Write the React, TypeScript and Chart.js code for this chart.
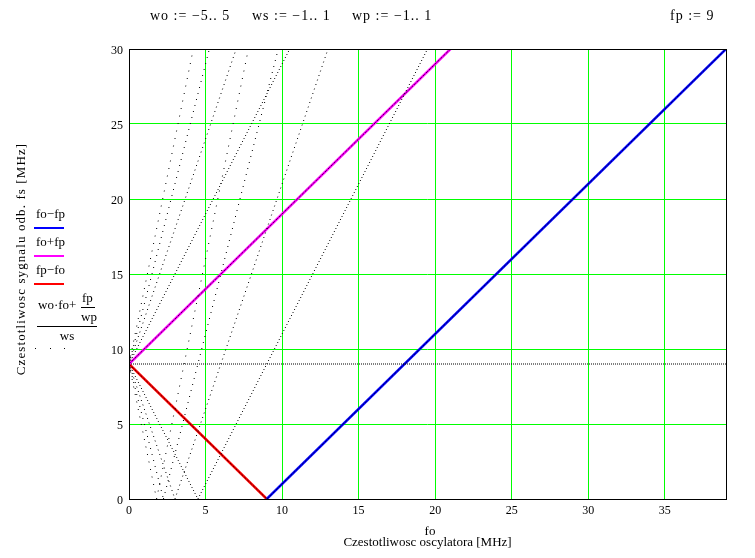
import { useEffect, useRef } from "react";
import { Chart, registerables } from "chart.js";

Chart.register(...registerables);

// ---- data ----
const fp = 9;
const xTicks = [0, 5, 10, 15, 20, 25, 30, 35];
const yTicks = [0, 5, 10, 15, 20, 25, 30];
const foRange = [0, 39];
const fsRange = [0, 30];

// fo - fp
const foMinusFpFo = [9, 39];
const foMinusFpFs = [0, 30];
// fo + fp
const foPlusFpFo = [0, 21];
const foPlusFpFs = [9, 30];
// fp - fo
const fpMinusFoFo = [0, 9];
const fpMinusFoFs = [9, 0];

// (wo·fo + fp/wp)/ws family, each visible branch: [fo start, fs start, fo end, fs end]
const dottedSegments: [number, number, number, number][] = [
  [0, 9, 39, 9],
  [0, 9, 21, 30],
  [0, 9, 10.5, 30],
  [0, 9, 7, 30],
  [0, 9, 5.25, 30],
  [0, 9, 4.2, 30],
  [0, 9, 9, 0],
  [0, 9, 4.5, 0],
  [0, 9, 3, 0],
  [0, 9, 2.25, 0],
  [0, 9, 1.8, 0],
  [9, 0, 39, 30],
  [4.5, 0, 19.5, 30],
  [3, 0, 13, 30],
  [2.25, 0, 9.75, 30],
  [1.8, 0, 7.8, 30],
];
const foStep = 0.1;

const headerTexts = ["wo := \u22125.. 5", "ws := \u22121.. 1", "wp := \u22121.. 1", `fp := ${fp}`];
const legendTexts = ["fo\u2212fp", "fo+fp", "fp\u2212fo"];
const xTitle1 = "fo";
const xTitle2 = "Czestotliwosc oscylatora [MHz]";
const yTitle = "Czestotliwosc sygnalu odb. fs [MHz]";

// ---- styles / layout ----
const W = 755;
const H = 558;
const AREA = { left: 129, top: 49, right: 726, bottom: 499 };
const SERIF = "'Liberation Serif', 'Times New Roman', serif";
const headerX = [150, 252, 352, 670];
const colors = { blue: "#0000ff", magenta: "#ff00ff", red: "#ff0000", grid: "#00ff00" };

const pts = (xs: number[], ys: number[]) => xs.map((x, i) => ({ x, y: ys[i] }));

const decorPlugin = {
  id: "mathcadDecor",
  afterDraw(chart: any) {
    const ctx: any = chart.ctx;
    const a = chart.chartArea;
    ctx.save();
    // frame
    ctx.strokeStyle = "#000";
    ctx.lineWidth = 1;
    ctx.strokeRect(a.left + 0.5, a.top + 0.5, a.right - a.left, a.bottom - a.top);

    ctx.fillStyle = "#000";
    ctx.textBaseline = "alphabetic";
    // header
    ctx.font = `14px ${SERIF}`;
    ctx.textAlign = "left";
    ctx.letterSpacing = "1px";
    headerTexts.forEach((t, i) => ctx.fillText(t, headerX[i], 20));
    ctx.letterSpacing = "0px";

    // legend
    ctx.font = `13px ${SERIF}`;
    const legColors = [colors.blue, colors.magenta, colors.red];
    legendTexts.forEach((t, i) => {
      ctx.fillStyle = "#000";
      ctx.fillText(t, 36, 218 + i * 28);
      ctx.fillStyle = legColors[i];
      ctx.fillRect(34, 227 + i * 28, 30, 2);
    });
    ctx.fillStyle = "#000";
    ctx.fillText("wo\u00b7fo+", 38, 309);
    ctx.fillText("fp", 82, 302);
    ctx.fillRect(81, 307, 14, 1);
    ctx.fillText("wp", 81, 321);
    ctx.fillRect(37, 326, 60, 1);
    ctx.textAlign = "center";
    ctx.fillText("ws", 67, 340);
    ctx.fillRect(35, 348, 1, 1);
    ctx.fillRect(50, 348, 1, 1);
    ctx.fillRect(64, 348, 1, 1);

    // axis titles
    ctx.textAlign = "center";
    ctx.fillText(xTitle1, 430, 535);
    ctx.fillText(xTitle2, (a.left + a.right) / 2, 546);
    ctx.save();
    ctx.translate(22, 259);
    ctx.rotate(-Math.PI / 2);
    ctx.textBaseline = "middle";
    ctx.letterSpacing = "1.1px";
    ctx.fillText(yTitle, 0, 0);
    ctx.letterSpacing = "0px";
    ctx.restore();
    ctx.restore();
  },
};

export default function App() {
  const ref = useRef<HTMLCanvasElement>(null);
  useEffect(() => {
    if (!ref.current) return;
    const pxX = (AREA.right - AREA.left) / (foRange[1] - foRange[0]);
    const pxY = (AREA.bottom - AREA.top) / (fsRange[1] - fsRange[0]);
    const dotted = dottedSegments.map(([x0, y0, x1, y1]) => {
      const slope = (y1 - y0) / (x1 - x0);
      const step = foStep * Math.hypot(pxX, slope * pxY);
      return {
        data: [
          { x: x0, y: y0 },
          { x: x1, y: y1 },
        ],
        showLine: true,
        borderColor: "#000",
        borderWidth: 1,
        borderDash: [1, Math.max(1, step - 1)],
        pointRadius: 0,
      };
    });
    const solid = (xs: number[], ys: number[], color: string) => ({
      data: pts(xs, ys),
      showLine: true,
      borderColor: color,
      borderWidth: 2.5,
      pointRadius: 0,
    });
    const chart = new Chart(ref.current, {
      type: "scatter",
      data: {
        datasets: [
          ...dotted,
          solid(foMinusFpFo, foMinusFpFs, colors.blue),
          solid(foPlusFpFo, foPlusFpFs, colors.magenta),
          solid(fpMinusFoFo, fpMinusFoFs, colors.red),
        ] as any,
      },
      options: {
        animation: false,
        responsive: false,
        events: [],
        layout: { padding: { left: 0, top: AREA.top, right: W - AREA.right, bottom: 0 } },
        plugins: { legend: { display: false }, tooltip: { enabled: false } },
        scales: {
          x: {
            type: "linear",
            min: foRange[0],
            max: foRange[1],
            afterFit: (s: any) => {
              s.height = H - AREA.bottom;
            },
            afterBuildTicks: (s: any) => {
              s.ticks = xTicks.map((v) => ({ value: v }));
            },
            border: { display: false },
            grid: { color: colors.grid, lineWidth: 1, drawTicks: false },
            ticks: {
              color: "#000",
              padding: 5,
              maxRotation: 0,
              autoSkip: false,
              font: { family: SERIF, size: 12 },
            },
          },
          y: {
            type: "linear",
            min: fsRange[0],
            max: fsRange[1],
            afterFit: (s: any) => {
              s.width = AREA.left;
            },
            afterBuildTicks: (s: any) => {
              s.ticks = yTicks.map((v) => ({ value: v }));
            },
            border: { display: false },
            grid: { color: colors.grid, lineWidth: 1, drawTicks: false },
            ticks: {
              color: "#000",
              padding: 6,
              labelOffset: 2,
              autoSkip: false,
              font: { family: SERIF, size: 12 },
            },
          },
        },
      },
      plugins: [decorPlugin],
    });
    return () => chart.destroy();
  }, []);
  return (
    <div style={{ position: "absolute", left: 0, top: 0, width: W, height: H, background: "#fff" }}>
      <canvas ref={ref} width={W} height={H} style={{ width: W, height: H, display: "block" }} />
    </div>
  );
}
